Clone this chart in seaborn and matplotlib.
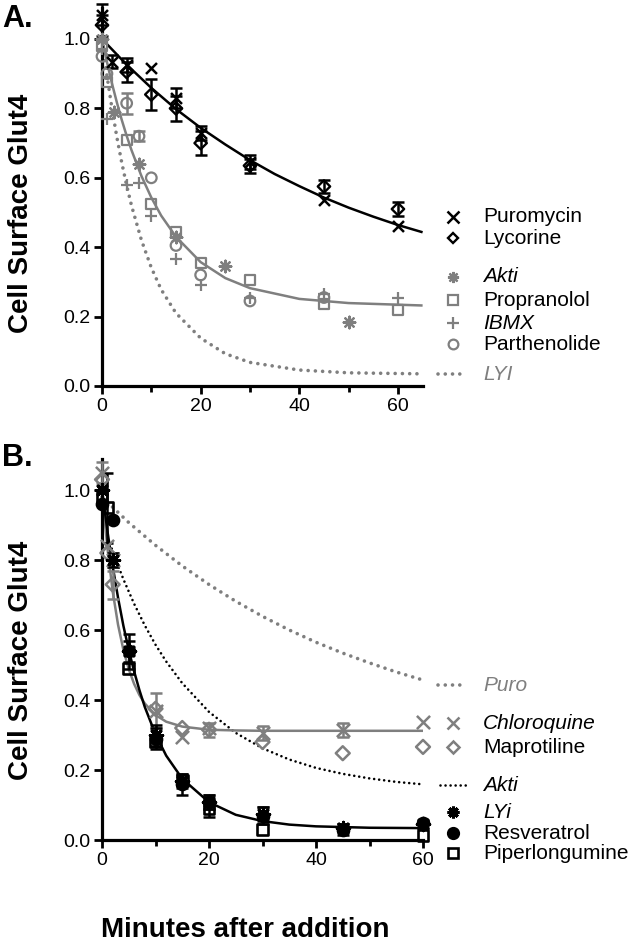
import matplotlib
matplotlib.use("Agg")
import matplotlib.pyplot as plt
from matplotlib.lines import Line2D
from matplotlib.ticker import MultipleLocator, FormatStrFormatter
import numpy as np
import seaborn as sns

# ---------------- Panel A data ----------------
puro_t = [0, 2, 5, 10, 15, 20, 30, 45, 60]
puro_y = [1.07, 0.935, 0.925, 0.915, 0.83, 0.73, 0.645, 0.535, 0.46]
puro_e = [0.03, 0.02, 0.02, 0.0, 0.03, 0.02, 0.02, 0.0, 0.0]

lyco_t = [0, 5, 10, 15, 20, 30, 45, 60]
lyco_y = [1.04, 0.905, 0.84, 0.80, 0.70, 0.635, 0.575, 0.51]
lyco_e = [0.03, 0.03, 0.045, 0.035, 0.035, 0.02, 0.02, 0.02]

akti_t = [0, 2.5, 7.5, 15, 25, 50]
akti_y = [1.0, 0.79, 0.64, 0.43, 0.345, 0.185]

prop_t = [0, 1, 5, 10, 15, 20, 30, 45, 60]
prop_y = [0.98, 0.875, 0.71, 0.525, 0.445, 0.355, 0.305, 0.235, 0.22]

ibmx_t = [0, 1, 5, 7.5, 10, 15, 20, 30, 45, 60]
ibmx_y = [0.97, 0.77, 0.58, 0.585, 0.49, 0.365, 0.29, 0.255, 0.265, 0.255]

parth_t = [0, 1, 5, 7.5, 10, 15, 20, 30, 45]
parth_y = [0.95, 0.90, 0.815, 0.72, 0.60, 0.405, 0.32, 0.245, 0.255]
parth_e = [0.0, 0.0, 0.03, 0.015, 0.0, 0.0, 0.0, 0.0, 0.0]

# fitted curves
fitA_black_t = [0, 5, 10, 15, 20, 25, 30, 35, 40, 45, 50, 55, 60, 65]
fitA_black_y = [1.0, 0.926, 0.859, 0.798, 0.744, 0.696, 0.651, 0.611, 0.576,
                0.543, 0.514, 0.488, 0.464, 0.443]
fitA_gray_t = [0, 1, 2, 3, 4, 5, 6, 8, 10, 12, 15, 20, 25, 30, 40, 50, 65]
fitA_gray_y = [1.0, 0.934, 0.873, 0.818, 0.767, 0.721, 0.679, 0.605, 0.543,
               0.491, 0.430, 0.357, 0.311, 0.282, 0.251, 0.239, 0.232]
lyi_curve_y = [1.0, 0.895, 0.802, 0.718, 0.644, 0.578, 0.519, 0.420, 0.341,
               0.278, 0.210, 0.138, 0.093, 0.068, 0.046, 0.038, 0.035]

# ---------------- Panel B data ----------------
chloro_t = [0, 1, 2, 10, 15, 20, 30, 45, 60]
chloro_y = [1.05, 0.84, 0.80, 0.37, 0.295, 0.32, 0.305, 0.315, 0.337]
chloro_e = [0.03, 0.0, 0.02, 0.05, 0.0, 0.0, 0.02, 0.02, 0.0]

mapro_t = [0, 1, 2, 10, 15, 20, 30, 45, 60]
mapro_y = [1.03, 0.82, 0.73, 0.375, 0.32, 0.315, 0.28, 0.248, 0.266]
mapro_e = [0.0, 0.0, 0.04, 0.0, 0.0, 0.02, 0.0, 0.0, 0.0]

lyi_t = [0, 2, 5, 10, 15, 20, 30, 45, 60]
lyi_y = [1.0, 0.80, 0.54, 0.30, 0.17, 0.11, 0.075, 0.035, 0.045]
lyi_e = [0.0, 0.02, 0.05, 0.03, 0.02, 0.02, 0.02, 0.01, 0.01]

resv_t = [0, 2, 5, 10, 15, 20, 30, 45, 60]
resv_y = [0.96, 0.915, 0.54, 0.29, 0.16, 0.11, 0.07, 0.03, 0.05]
resv_e = [0.0, 0.0, 0.03, 0.03, 0.03, 0.02, 0.025, 0.015, 0.0]

piper_t = [0, 1, 5, 10, 15, 20, 30, 60]
piper_y = [0.98, 0.95, 0.49, 0.28, 0.17, 0.09, 0.03, 0.012]
piper_e = [0.0, 0.1, 0.0, 0.0, 0.0, 0.025, 0.0, 0.0]

fitB_t = [0, 1, 2, 3, 4, 5, 6, 7, 8, 10, 12, 15, 20, 25, 30, 35, 40, 50, 60]
fitB_black_y = [1.0, 0.884, 0.782, 0.692, 0.612, 0.543, 0.482, 0.428, 0.380,
                0.302, 0.241, 0.175, 0.108, 0.072, 0.054, 0.044, 0.039, 0.035, 0.034]
fitB_gray_y = [1.0, 0.836, 0.710, 0.615, 0.543, 0.488, 0.446, 0.414, 0.390,
               0.357, 0.338, 0.324, 0.315, 0.313, 0.312, 0.312, 0.312, 0.312, 0.312]
puroB_t = [0, 5, 10, 15, 20, 25, 30, 35, 40, 45, 50, 55, 60]
puroB_y = [0.98, 0.907, 0.842, 0.783, 0.730, 0.682, 0.639, 0.600, 0.565,
           0.534, 0.506, 0.480, 0.457]
aktiB_t = [1.5, 2.6, 4, 6, 8, 10, 12, 15, 20, 25, 30, 35, 40, 45, 50, 55, 60]
aktiB_y = [0.846, 0.800, 0.745, 0.675, 0.613, 0.558, 0.510, 0.448, 0.366,
           0.306, 0.262, 0.230, 0.206, 0.189, 0.176, 0.166, 0.159]

y_ticks = [0.0, 0.2, 0.4, 0.6, 0.8, 1.0]
x_ticks = [0, 20, 40, 60]

# ---------------- style ----------------
sns.set_style("ticks")
plt.rcParams['font.family'] = ['Liberation Sans', 'DejaVu Sans']
plt.rcParams['text.color'] = 'black'
plt.rcParams['axes.labelcolor'] = 'black'
plt.rcParams['xtick.color'] = 'black'
plt.rcParams['ytick.color'] = 'black'
plt.rcParams['axes.edgecolor'] = 'black'

GRAY = '#7f7f7f'
BLACK = '#000000'
ASTER = (8, 2, 0)

fig = plt.figure(figsize=(6.33, 9.47), dpi=100)
W, H = 633.0, 947.0

axA = fig.add_axes([102 / W, (H - 386) / H, 320.6 / W, 1.09 * 347 / H])
axB = fig.add_axes([102 / W, (H - 840) / H, 321 / W, 1.09 * 350 / H])


def style_axis(ax, xmax):
    ax.set_xlim(0, xmax)
    ax.set_ylim(0, 1.09)
    for s in ['top', 'right']:
        ax.spines[s].set_visible(False)
    for s in ['left', 'bottom']:
        ax.spines[s].set_linewidth(2.3)
        ax.spines[s].set_color('black')
    ax.set_yticks(y_ticks)
    ax.set_xticks(x_ticks)
    ax.yaxis.set_major_formatter(FormatStrFormatter('%.1f'))
    ax.xaxis.set_minor_locator(MultipleLocator(10))
    ax.tick_params(axis='both', which='major', length=5.5, width=2.0,
                   labelsize=14, pad=3, color='black', labelcolor='black')
    ax.tick_params(axis='x', which='minor', length=4.5, width=2.0, color='black')
    ax.set_xlabel('')
    ax.set_ylabel('')


def curve(ax, t, y, color, lw, ls='-', z=2):
    sns.lineplot(x=t, y=y, ax=ax, color=color, linewidth=lw, linestyle=ls,
                 estimator=None, sort=False, dash_capstyle='round',
                 solid_capstyle='butt', zorder=z, clip_on=False)


def points(ax, t, y, marker, color, s, lw=1.6, filled=False, err=None, z=4):
    if err is not None:
        tt = [a for a, e in zip(t, err) if e > 0]
        yy = [b for b, e in zip(y, err) if e > 0]
        ee = [e for e in err if e > 0]
        if tt:
            eb = ax.errorbar(tt, yy, yerr=ee, fmt='none', ecolor=color,
                             elinewidth=1.8, capsize=4.6, capthick=1.8, zorder=z - 1)
            for c in eb.get_children():
                c.set_clip_on(False)
    m = matplotlib.markers.MarkerStyle(marker)
    kws = dict(marker=marker, s=s, linewidth=lw, zorder=z, clip_on=False)
    if m.is_filled():
        if filled:
            kws.update(facecolor=color, edgecolor=color)
        else:
            kws.update(facecolor='none', edgecolor=color)
    sns.scatterplot(x=t, y=y, ax=ax, color=color, legend=False, **kws)


# ---------------- Panel A ----------------
curve(axA, fitA_gray_t, lyi_curve_y, GRAY, 2.6, (0, (0.01, 2.0)), z=1)
curve(axA, fitA_black_t, fitA_black_y, BLACK, 1.8)
curve(axA, fitA_gray_t, fitA_gray_y, GRAY, 1.8)

points(axA, akti_t, akti_y, ASTER, GRAY, 70, lw=1.6)
points(axA, prop_t, prop_y, 's', GRAY, 52, lw=1.6)
points(axA, ibmx_t, ibmx_y, '+', GRAY, 80, lw=1.6)
points(axA, parth_t, parth_y, 'o', GRAY, 58, lw=1.6, err=parth_e)
points(axA, lyco_t, lyco_y, 'D', BLACK, 40, lw=1.7, err=lyco_e)
points(axA, puro_t, puro_y, 'x', BLACK, 62, lw=1.8, err=puro_e)

style_axis(axA, 65)

# ---------------- Panel B ----------------
curve(axB, puroB_t, puroB_y, GRAY, 2.6, (0, (0.01, 2.0)), z=1)
curve(axB, aktiB_t, aktiB_y, BLACK, 1.9, (0, (0.01, 1.9)), z=1)
curve(axB, fitB_t, fitB_gray_y, GRAY, 1.8)
curve(axB, fitB_t, fitB_black_y, BLACK, 1.8)

points(axB, chloro_t, chloro_y, 'x', GRAY, 90, lw=1.8, err=chloro_e)
points(axB, mapro_t, mapro_y, 'D', GRAY, 50, lw=1.8, err=mapro_e)
points(axB, lyi_t, lyi_y, ASTER, BLACK, 80, lw=2.2, err=lyi_e)
points(axB, resv_t, resv_y, 'o', BLACK, 70, lw=1.5, filled=True, err=resv_e)
points(axB, piper_t, piper_y, 's', BLACK, 60, lw=1.9, err=piper_e)

style_axis(axB, 60)

# ---------------- labels ----------------
fig.text(2 / W, 1 - 27 / H, 'A.', fontsize=22, fontweight='bold', va='baseline', ha='left')
fig.text(2 / W, 1 - 466 / H, 'B.', fontsize=22, fontweight='bold', va='baseline', ha='left')
fig.text(21 / W, 1 - 213 / H, 'Cell Surface Glut4', rotation=90, fontsize=20,
         fontweight='bold', va='center', ha='center')
fig.text(21 / W, 1 - 660 / H, 'Cell Surface Glut4', rotation=90, fontsize=20,
         fontweight='bold', va='center', ha='center')
fig.text(245 / W, 1 - 930 / H, 'Minutes after addition', fontsize=20,
         fontweight='bold', va='center', ha='center')

# ---------------- manual legends ----------------
MX = 453 / W
TX = 483 / W


def leg_marker(ypx, marker, color, ms, mew=1.5, filled=False):
    fc = color if filled else 'none'
    fig.add_artist(Line2D([MX], [1 - ypx / H], transform=fig.transFigure,
                          marker=marker, markersize=ms, markeredgewidth=mew,
                          markeredgecolor=color, markerfacecolor=fc,
                          linestyle='none', color=color))


def leg_line(ypx, color, lw, dash, x0=438, x1=466):
    fig.add_artist(Line2D([x0 / W, x1 / W], [1 - ypx / H, 1 - ypx / H],
                          transform=fig.transFigure, color=color, linewidth=lw,
                          linestyle=dash, dash_capstyle='round'))


def leg_text(ypx, txt, color='black', italic=False):
    fig.text(TX, 1 - ypx / H, txt, fontsize=15, color=color,
             style='italic' if italic else 'normal', va='center', ha='left')


# Panel A legend
leg_marker(217, 'x', BLACK, 8, 1.8)
leg_text(217, 'Puromycin')
leg_marker(238, 'D', BLACK, 5.5, 1.7)
leg_text(238, 'Lycorine')
leg_marker(277, ASTER, GRAY, 8, 1.6)
leg_text(277, 'Akti', italic=True)
leg_marker(300, 's', GRAY, 6.5, 1.6)
leg_text(300, 'Propranolol')
leg_marker(323, '+', GRAY, 9, 1.6)
leg_text(323, 'IBMX', italic=True)
leg_marker(344, 'o', GRAY, 7, 1.6)
leg_text(344, 'Parthenolide')
leg_line(374, GRAY, 2.6, (0, (0.01, 2.0)))
leg_text(374, 'LYI', color=GRAY, italic=True)

# Panel B legend
leg_line(685, GRAY, 2.6, (0, (0.01, 2.0)))
leg_text(685, 'Puro', color=GRAY, italic=True)
leg_marker(723, 'x', GRAY, 9, 1.8)
leg_text(723, 'Chloroquine', italic=True)
leg_marker(747, 'D', GRAY, 6, 1.8)
leg_text(747, 'Maprotiline')
leg_line(785, BLACK, 1.9, (0, (0.01, 1.9)), x0=440, x1=468)
leg_text(785, 'Akti', italic=True)
leg_marker(812, ASTER, BLACK, 8.5, 2.2)
leg_text(812, 'LYi', italic=True)
leg_marker(833, 'o', BLACK, 8, 1.5, filled=True)
leg_text(833, 'Resveratrol')
leg_marker(853, 's', BLACK, 7, 1.9)
leg_text(853, 'Piperlongumine')

fig.savefig('out.png', dpi=100)
